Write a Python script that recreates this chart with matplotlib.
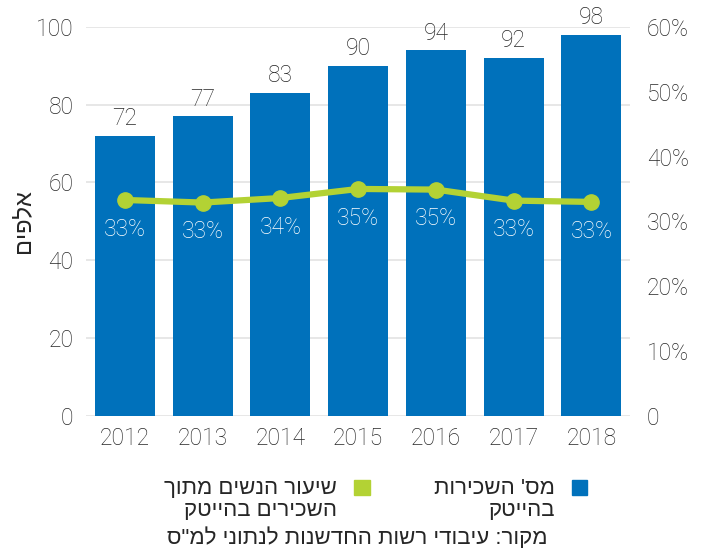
import matplotlib
matplotlib.use("Agg")
import matplotlib.pyplot as plt
from matplotlib.patches import Rectangle

plt.rcParams['font.family'] = ['Roboto', 'DejaVu Sans']

years = ['2012', '2013', '2014', '2015', '2016', '2017', '2018']
employees = [72, 77, 83, 90, 94, 92, 98]
women_share = [33.3, 32.9, 33.6, 35.0, 34.9, 33.2, 33.0]
left_ticks = [0, 20, 40, 60, 80, 100]
right_ticks = [0, 10, 20, 30, 40, 50, 60]

ylabel = "אלפים"
legend1 = ["מס' השכירות", "בהייטק"]
legend2 = ["שיעור הנשים מתוך", "השכירים בהייטק"]
source = "מקור: עיבודי רשות החדשנות לנתוני למ\"ס"

def rtl(s):
    return s[::-1]

BLUE = '#0071bb'
GREEN = '#b3d234'
TXT = '#262626'
W = 'light'
FS = 16.5
HEB = dict(family=['Liberation Sans', 'DejaVu Sans'], fontweight='normal')

fig = plt.figure(figsize=(7.05, 5.59), dpi=100)
ax = fig.add_axes([0.122, 0.256, 0.772, 0.696])
ax2 = ax.twinx()

x = list(range(len(years)))
ax.set_axisbelow(True)
for t in left_ticks:
    ax.axhline(t, color='#e3e3e3', lw=1.2, zorder=0)
bars = ax.bar(x, employees, width=0.77, color=BLUE, zorder=2)
for xi, v in zip(x, employees):
    ax.annotate(str(v), (xi, v), xytext=(0, 4), textcoords='offset points',
                ha='center', va='bottom', fontsize=FS, color=TXT, fontweight=W)

ax.set_xlim(-0.5, len(years) - 0.5)
ax.set_ylim(0, 100)
ax.set_yticks(left_ticks)
ax.set_yticklabels([str(t) for t in left_ticks], fontsize=FS, color=TXT, fontweight=W)
ax.set_xticks(x)
ax.set_xticklabels(years, fontsize=FS, color=TXT, fontweight=W)
ax.tick_params(length=0)
ax.tick_params(axis='x', pad=8)
ax.tick_params(axis='y', pad=9)
ax.set_ylabel(rtl(ylabel), fontsize=17, color=TXT, labelpad=1, **HEB)

ax2.set_ylim(0, 60)
ax2.set_yticks(right_ticks)
ax2.set_yticklabels(['0' if t == 0 else f'{t}%' for t in right_ticks],
                    fontsize=FS, color=TXT, fontweight=W)
ax2.tick_params(length=0, pad=12)
ax2.plot(x, women_share, color=GREEN, lw=4.5, marker='o', markersize=11, zorder=3)
for xi, v in zip(x, women_share):
    ax2.annotate(f'{round(v)}%', (xi, v), xytext=(0, -21), textcoords='offset points',
                 ha='center', va='center', fontsize=FS, color='white', fontweight=W)

for a in (ax, ax2):
    for s in a.spines.values():
        s.set_visible(False)

# legend
fig.patches.append(Rectangle((572 / 705, 1 - 495 / 559), 15 / 705, 15 / 559,
                             transform=fig.transFigure, color=BLUE))
fig.patches.append(Rectangle((354 / 705, 1 - 495 / 559), 16 / 705, 15 / 559,
                             transform=fig.transFigure, color=GREEN))
fig.text(555 / 705, 1 - 488 / 559, rtl(legend1[0]), ha='right', va='center',
         fontsize=16, color=TXT, **HEB)
fig.text(555 / 705, 1 - 510 / 559, rtl(legend1[1]), ha='right', va='center',
         fontsize=16, color=TXT, **HEB)
fig.text(337 / 705, 1 - 488 / 559, rtl(legend2[0]), ha='right', va='center',
         fontsize=16, color=TXT, **HEB)
fig.text(337 / 705, 1 - 510 / 559, rtl(legend2[1]), ha='right', va='center',
         fontsize=16, color=TXT, **HEB)
fig.text(357 / 705, 1 - 538 / 559, rtl(source), ha='center', va='center',
         fontsize=16, color=TXT, **HEB)

fig.savefig('out.png', dpi=100)
